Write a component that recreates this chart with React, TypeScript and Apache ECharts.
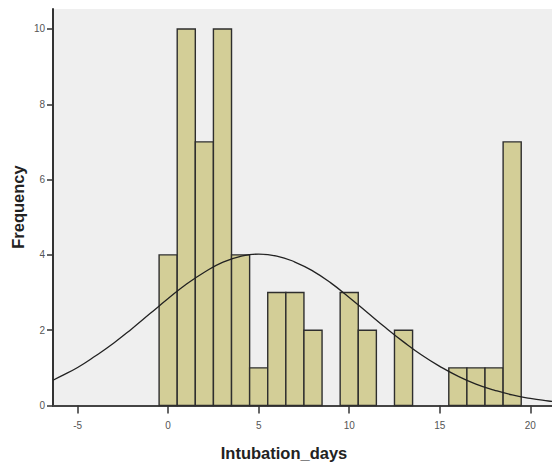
import React, { useEffect, useRef } from "react";
import * as echarts from "echarts";

// Histogram bins (bin width 1, centred on integer days)
const binCenters = [0, 1, 2, 3, 4, 5, 6, 7, 8, 9, 10, 11, 12, 13, 14, 15, 16, 17, 18, 19];
const frequencies = [4, 10, 7, 10, 4, 1, 3, 3, 2, 0, 3, 2, 0, 2, 0, 0, 1, 1, 1, 7];

// Normal curve
const curveX = [-6.36, -6, -5, -4, -3, -2, -1, 0, 1, 2, 3, 4, 5, 6, 7, 8, 9, 10, 11, 12, 13, 14, 15, 16, 17, 18, 19, 20, 21, 21.2];
const curveY = [0.67, 0.76, 1.01, 1.32, 1.66, 2.04, 2.44, 2.84, 3.22, 3.54, 3.8, 3.96, 4.02, 3.97, 3.81, 3.57, 3.25, 2.87, 2.47, 2.07, 1.69, 1.34, 1.04, 0.78, 0.57, 0.41, 0.28, 0.19, 0.12, 0.11];

const xTicks = [-5, 0, 5, 10, 15, 20];
const yTicks = [0, 2, 4, 6, 8, 10];
const xMin = -6.36;
const xMax = 21.2;
const yMax = 10.53;
const binWidth = 1;

export default function App() {
  const ref = useRef<HTMLDivElement>(null);

  useEffect(() => {
    document.body.style.margin = "0";
    if (!ref.current) return;
    const chart = echarts.init(ref.current, null, { renderer: "svg" });

    const barData = binCenters.map((c, i) => [c, frequencies[i]]).filter((d) => d[1] > 0);
    const lineData = curveX.map((x, i) => [x, curveY[i]]);

    const axisCol = "#333";
    const tickLabel = { color: "#555", fontSize: 10, fontFamily: "Liberation Sans, Arial, sans-serif" };

    chart.setOption({
      animation: false,
      backgroundColor: "#ffffff",
      grid: {
        left: 53,
        top: 9,
        right: 0,
        bottom: 60.5,
        show: true,
        backgroundColor: "#efefef",
        borderWidth: 0,
      },
      xAxis: [
        {
          type: "value",
          min: xMin,
          max: xMax,
          position: "bottom",
          axisLine: { show: true, onZero: false, lineStyle: { color: axisCol, width: 2 } },
          axisTick: { show: true, length: 8, customValues: xTicks, lineStyle: { color: axisCol, width: 1.5 } },
          axisLabel: { ...tickLabel, margin: 15, customValues: xTicks },
          splitLine: { show: false },
        },
        {
          type: "value",
          min: xMin,
          max: xMax,
          position: "top",
          axisLine: { show: true, lineStyle: { color: "#444", width: 2 } },
          axisTick: { show: false },
          axisLabel: { show: false },
          splitLine: { show: false },
        },
      ],
      yAxis: {
        type: "value",
        min: 0,
        max: yMax,
        axisLine: { show: true, onZero: false, lineStyle: { color: axisCol, width: 2 } },
        axisTick: { show: true, length: 6, customValues: yTicks, lineStyle: { color: axisCol, width: 1.5 } },
        axisLabel: { ...tickLabel, margin: 8, customValues: yTicks },
        splitLine: { show: false },
      },
      graphic: [
        {
          type: "text",
          x: 284,
          y: 453,
          style: {
            text: "Intubation_days",
            font: "bold 16.5px 'Liberation Sans', Arial, sans-serif",
            fill: "#222",
            align: "center",
            verticalAlign: "middle",
          },
        },
        {
          type: "text",
          x: 18,
          y: 207,
          rotation: Math.PI / 2,
          style: {
            text: "Frequency",
            font: "bold 16.5px 'Liberation Sans', Arial, sans-serif",
            fill: "#222",
            align: "center",
            verticalAlign: "middle",
          },
        },
      ],
      series: [
        {
          type: "custom",
          xAxisIndex: 0,
          data: barData,
          z: 2,
          renderItem: (params: any, api: any) => {
            const c = api.value(0);
            const v = api.value(1);
            const p0 = api.coord([c - binWidth / 2, v]);
            const p1 = api.coord([c + binWidth / 2, 0]);
            return {
              type: "rect",
              shape: { x: p0[0], y: p0[1], width: p1[0] - p0[0], height: p1[1] - p0[1] },
              style: { fill: "#d3ce97", stroke: "#2e2e2e", lineWidth: 1.4 },
            };
          },
        },
        {
          type: "line",
          xAxisIndex: 0,
          data: lineData,
          smooth: true,
          showSymbol: false,
          z: 3,
          lineStyle: { color: "#222", width: 1.3 },
        },
      ],
    });

    return () => chart.dispose();
  }, []);

  return <div ref={ref} style={{ width: 552, height: 466 }} />;
}
